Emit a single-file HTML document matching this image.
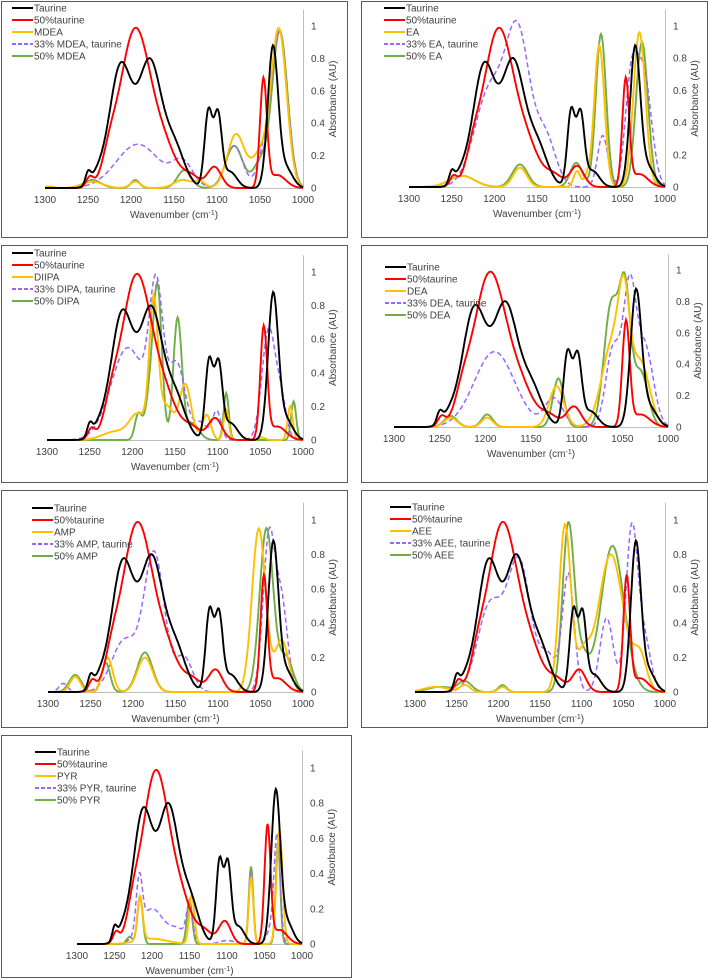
<!DOCTYPE html>
<html><head><meta charset="utf-8">
<style>
html,body{margin:0;padding:0;background:#fff;}
svg{display:block;font-family:"Liberation Sans",sans-serif;}
</style></head>
<body>
<svg id="chart" width="708" height="980" viewBox="0 0 708 980" xmlns="http://www.w3.org/2000/svg"></svg>
<script>
// Shared reference series (peak lists: [center cm-1, height AU, width cm-1])
const taurinePeaks = [[1250,0.07,3],[1240,0.06,8],[1212,0.75,13],[1178,0.76,13],[1150,0.25,12],[1110,0.47,4.5],[1099,0.44,4.5],[1085,0.1,8],[1035,0.86,6],[1020,0.12,8]];
const taurine50Peaks = [[1248,0.06,4],[1225,0.12,8],[1195,0.98,18],[1160,0.2,14],[1130,0.07,10],[1103,0.13,8],[1046,0.66,4],[1030,0.08,10]];
const amineNames = ["MDEA","EA","DIIPA","DEA","AMP","AEE","PYR"];
const mixNames = ["33% MDEA, taurine","33% EA, taurine","33% DIPA, taurine","33% DEA, taurine","33% AMP, taurine","33% AEE, taurine","33% PYR, taurine"];
const fiftyNames = ["50% MDEA","50% EA","50% DIPA","50% DEA","50% AMP","50% AEE","50% PYR"];
const aminePeaks = [
 [[1295,0.01,5],[1245,0.04,12],[1195,0.04,6],[1140,0.05,10],[1120,0.04,6],[1078,0.33,10],[1050,0.2,10],[1028,0.97,9]],
 [[1238,0.07,15],[1170,0.12,8],[1103,0.1,4],[1092,0.05,3],[1077,0.88,6],[1030,0.96,7]],
 [[1220,0.05,15],[1193,0.15,10],[1175,0.8,5],[1160,0.2,8],[1138,0.33,7],[1113,0.15,5],[1090,0.18,3],[1048,0.015,4],[1015,0.2,3]],
 [[1238,0.06,7],[1198,0.06,6],[1122,0.26,8],[1060,0.55,12],[1048,0.55,6],[1030,0.4,10]],
 [[1268,0.09,6],[1230,0.2,6],[1186,0.2,9],[1052,0.95,8],[1025,0.3,8]],
 [[1275,0.03,15],[1240,0.04,6],[1195,0.03,5],[1120,0.97,7],[1098,0.2,8],[1065,0.8,15],[1030,0.2,8]],
 [[1216,0.25,3.5],[1200,0.03,20],[1147,0.28,3.5],[1068,0.38,3],[1030,0.65,4]]
];
const mixPeaks = [
 [[1192,0.27,25],[1140,0.15,12],[1080,0.26,10],[1045,0.2,8],[1027,0.95,9]],
 [[1205,0.6,18],[1172,0.9,14],[1140,0.3,12],[1073,0.32,6],[1040,0.6,7],[1025,0.7,9]],
 [[1205,0.55,20],[1172,0.82,8],[1148,0.45,10],[1120,0.1,8],[1101,0.17,5],[1040,0.66,8],[1025,0.2,6]],
 [[1190,0.48,22],[1125,0.18,10],[1060,0.5,8],[1042,0.85,7],[1025,0.5,9]],
 [[1282,0.05,5],[1210,0.3,15],[1175,0.8,12],[1140,0.2,10],[1040,0.9,7],[1025,0.5,7]],
 [[1210,0.5,15],[1175,0.75,14],[1140,0.2,10],[1116,0.68,7],[1070,0.43,8],[1040,0.93,7],[1025,0.3,8]],
 [[1217,0.3,4],[1200,0.2,15],[1165,0.08,12],[1150,0.2,4],[1100,0.02,10],[1068,0.42,3],[1040,0.1,6],[1033,0.58,4]]
];
const fiftyPeaks = [
 [[1245,0.05,10],[1195,0.05,5],[1138,0.11,8],[1080,0.26,10],[1050,0.15,8],[1027,0.97,9]],
 [[1238,0.07,15],[1170,0.14,9],[1104,0.15,7],[1075,0.95,6],[1027,0.9,7]],
 [[1193,0.15,4],[1178,0.3,6],[1170,0.8,5],[1147,0.72,5],[1130,0.1,8],[1090,0.28,3],[1011,0.23,3]],
 [[1238,0.07,7],[1198,0.08,6],[1120,0.31,6],[1062,0.78,8],[1047,0.8,6],[1030,0.35,8]],
 [[1268,0.1,7],[1232,0.17,5],[1186,0.23,9],[1043,0.95,8],[1020,0.2,8]],
 [[1270,0.03,15],[1240,0.06,8],[1195,0.04,5],[1116,0.96,7],[1100,0.2,8],[1063,0.85,14]],
 [[1230,0.04,4],[1216,0.27,3.5],[1150,0.25,3.5],[1068,0.44,3],[1032,0.58,3]]
];
const xTicks = [1300,1250,1200,1150,1100,1050,1000];
const yTicks = [0,0.2,0.4,0.6,0.8,1];

// layout (not data)
const panels = [
 {f:[1,1,346,236], xl:45,xr:303,y0:188,y1:26, lx:12,ly:8},
 {f:[361,1,346,236], xl:409,xr:665,y0:187,y1:26, lx:384,ly:8},
 {f:[1,245,346,237], xl:47,xr:303,y0:440,y1:272, lx:12,ly:253},
 {f:[361,245,346,237], xl:394,xr:668,y0:427,y1:270, lx:385,ly:267},
 {f:[1,490,346,237], xl:48,xr:303,y0:692,y1:520, lx:32,ly:508},
 {f:[361,490,346,237], xl:415,xr:665,y0:692,y1:520, lx:390,ly:507},
 {f:[1,735,350,242], xl:77,xr:302,y0:944,y1:768, lx:35,ly:752}
];
const NS="http://www.w3.org/2000/svg";
const svg=document.getElementById('chart');
function mk(tag,attrs,parent){const e=document.createElementNS(NS,tag);for(const k in attrs)e.setAttribute(k,attrs[k]);(parent||svg).appendChild(e);return e;}
function spec(peaks,w){let s=0;for(const p of peaks){const d=(w-p[0])/p[2];s+=p[1]*Math.exp(-0.5*d*d);}return s;}

panels.forEach((P,i)=>{
 const g=mk('g',{});
 
 
 const fr=mk('rect',{x:P.f[0]+0.5,y:P.f[1]+0.5,width:P.f[2],height:P.f[3],fill:'#fff',stroke:'#595959','stroke-width':1},g);
 
 
 const X=w=>P.xl+(1300-w)/300*(P.xr-P.xl);
 const Y=v=>P.y0-v*(P.y0-P.y1);
 const xa=mk('line',{x1:P.xl,y1:P.y0+0.5,x2:P.xr,y2:P.y0+0.5,stroke:'#bfbfbf','stroke-width':1},g);
 
 
 const ya=mk('line',{x1:P.xr+0.5,y1:Y(1.1),x2:P.xr+0.5,y2:P.y0,stroke:'#bfbfbf','stroke-width':1},g);
 
 
 xTicks.forEach(t=>{
  const tx=mk('text',{x:X(t),y:P.y0+15,'font-size':10,'text-anchor':'middle',fill:'#404040'},g);
  tx.textContent=t;
  
  
 });
 yTicks.forEach(t=>{
  const ty=mk('text',{x:P.xr+8,y:Y(t)+3.5,'font-size':10,fill:'#404040'},g);
  ty.textContent=String(t);
  
  
 });
 const xt=mk('text',{x:(P.xl+P.xr)/2,y:P.y0+30,'font-size':10,'text-anchor':'middle',fill:'#404040'},g);
 xt.innerHTML='Wavenumber (cm<tspan dy="-3" font-size="7">-1</tspan><tspan dy="3">)</tspan>';
 
 
 const yx=P.xr+33, yy=(P.y0+Y(1.1))/2;
 const yt=mk('text',{x:yx,y:yy,'font-size':10,'text-anchor':'middle',fill:'#404040',transform:`rotate(-90 ${yx} ${yy})`},g);
 yt.textContent='Absorbance (AU)';
 
 
 const series=[
  {n:'Taurine',p:taurinePeaks,c:'#000000',d:null},
  {n:'50%taurine',p:taurine50Peaks,c:'#ff0000',d:null},
  {n:amineNames[i],p:aminePeaks[i],c:'#ffc000',d:null},
  {n:mixNames[i],p:mixPeaks[i],c:'#9966ff',d:'5,3'},
  {n:fiftyNames[i],p:fiftyPeaks[i],c:'#70ad47',d:null}
 ];
 const order=[4,3,2,1,0];
 order.forEach(k=>{
  const s=series[k];
  let d='';
  for(let w=1300;w>=1000;w-=1){d+=(w===1300?'M':'L')+X(w).toFixed(1)+','+Y(spec(s.p,w)).toFixed(1);}
  const path=mk('path',{d:d,fill:'none',stroke:s.c,'stroke-width':k===3?1.5:1.9},g);
  if(s.d)path.setAttribute('stroke-dasharray',s.d);
  
  
 });
 series.forEach((s,k)=>{
  const ly=P.ly+k*12;
  const lg=mk('g',{},g);
  
  
  const ll=mk('line',{x1:P.lx,y1:ly,x2:P.lx+21,y2:ly,stroke:s.c,'stroke-width':2},lg);
  if(s.d)ll.setAttribute('stroke-dasharray','4,2');
  const lt=mk('text',{x:P.lx+22,y:ly+3.5,'font-size':10,fill:'#404040'},lg);
  lt.textContent=s.n;
 });
});
</script>
</body></html>
